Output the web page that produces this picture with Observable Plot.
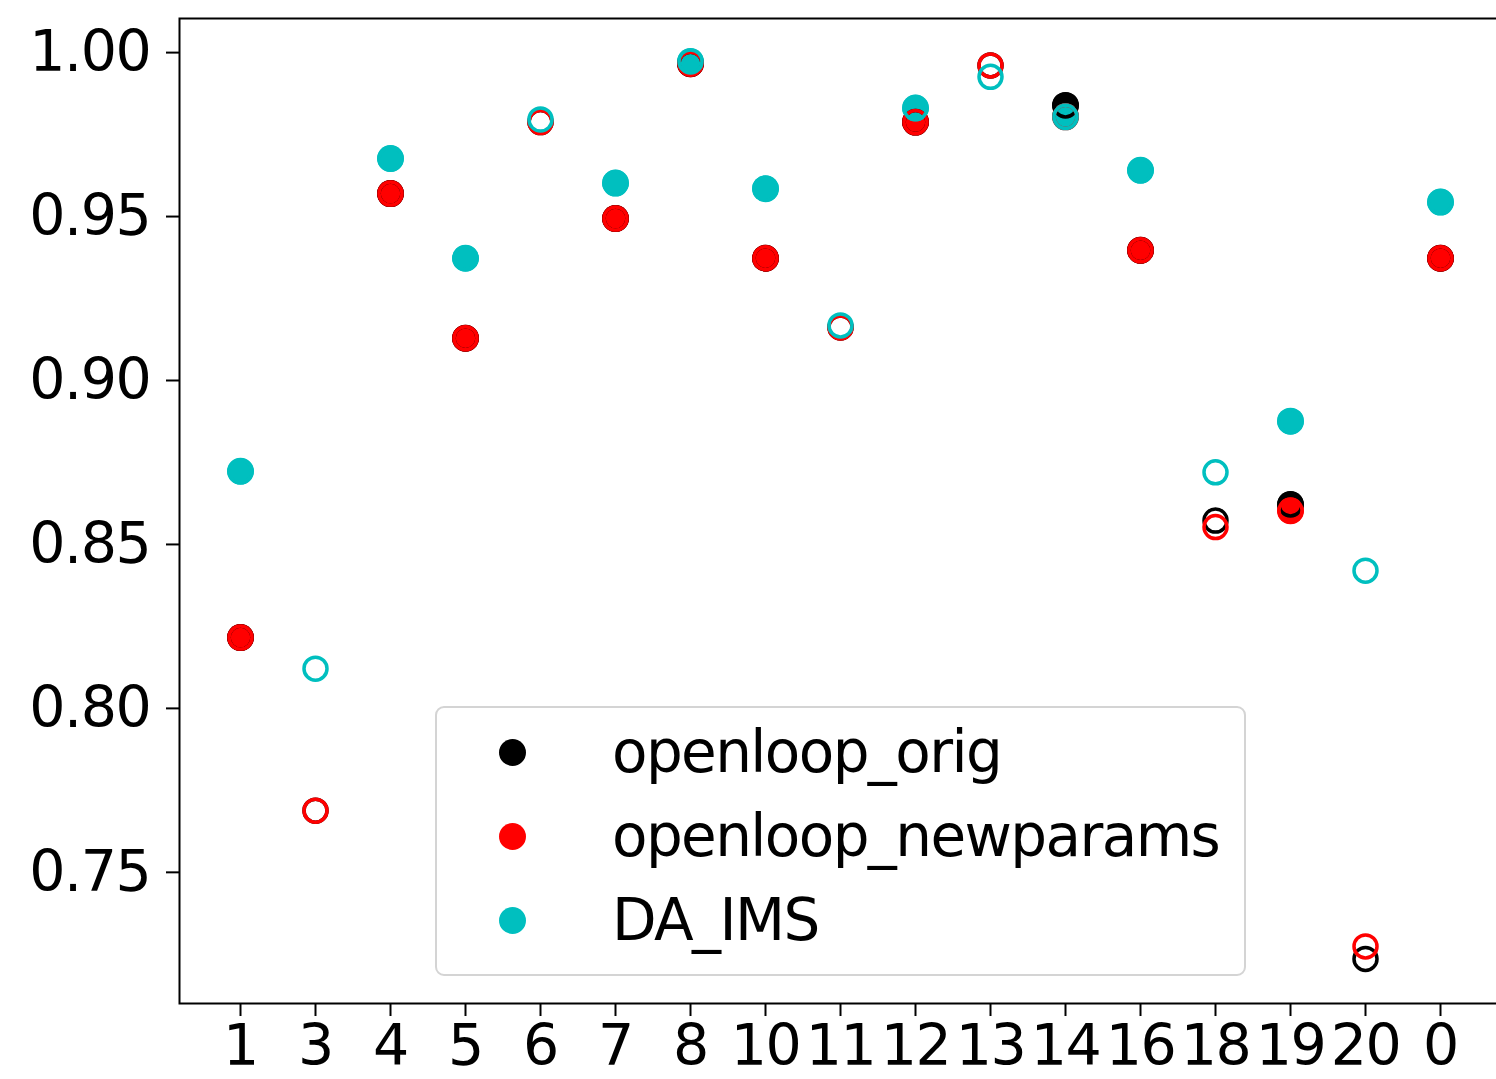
<!DOCTYPE html>
<html>
<head>
<meta charset="utf-8">
<script src="https://cdn.jsdelivr.net/npm/d3@7"></script>
<script src="https://cdn.jsdelivr.net/npm/@observablehq/plot@0.6"></script>
<style>
  html, body { margin: 0; padding: 0; overflow: hidden; background: #fff; }
  #wrap { position: relative; width: 1496px; height: 1079px; overflow: hidden; }
  #wrap svg { max-width: none !important; width: 1520px; height: 1079px; display: block; }
  #legend {
    position: absolute; left: 435px; top: 706px; width: 811px; height: 270px;
    box-sizing: border-box; border: 2px solid #d4d4d4; border-radius: 9px;
    background: rgba(255,255,255,0.8); padding-top: 2px;
    font-family: "DejaVu Sans", sans-serif; font-size: 58px; color: #000; letter-spacing: -1.6px;
  }
  .row { position: relative; height: 84px; }
  .sw { position: absolute; left: 61.5px; top: 28.5px; width: 27px; height: 27px; border-radius: 50%; }
  .lab { position: absolute; left: 175px; top: 0; line-height: 84px; white-space: nowrap; }
</style>
</head>
<body>
<div id="wrap"></div>
<script>
// Categories (x tick labels)
const categories = ["1","3","4","5","6","7","8","10","11","12","13","14","16","18","19","20","0"];
// Series values
const openloopOrig      = [0.8216,0.7688,0.9570,0.9129,0.9788,0.9494,0.9966,0.9373,0.9162,0.9788,0.9961,0.9839,0.9397,0.8573,0.8622,0.7236,0.9373];
const openloopNewparams = [0.8216,0.7688,0.9570,0.9129,0.9788,0.9494,0.9966,0.9373,0.9162,0.9788,0.9961,0.9804,0.9397,0.8553,0.8603,0.7274,0.9373];
const daIMS             = [0.8723,0.8121,0.9677,0.9373,0.9796,0.9602,0.9973,0.9585,0.9168,0.9831,0.9926,0.9804,0.9641,0.8720,0.8876,0.8420,0.9544];
// Filled (true) vs hollow (false) markers per category
const filledFlags = [true,false,true,true,false,true,true,true,false,true,false,true,true,false,true,false,true];
// Series names and colours
const seriesNames  = ["openloop_orig","openloop_newparams","DA_IMS"];
const seriesColors = ["#000000","#ff0000","#00bfbf"];
const yTicks = [0.75,0.80,0.85,0.90,0.95,1.00];

const seriesValues = [openloopOrig, openloopNewparams, daIMS];
const rows = [];
seriesNames.forEach((s, si) => {
  categories.forEach((c, i) => {
    rows.push({cat: c, value: seriesValues[si][i], series: s, filled: filledFlags[i]});
  });
});

const W = 1520, H = 1079;
const chart = Plot.plot({
  width: W,
  height: H,
  marginLeft: 179,
  marginRight: 19,
  marginTop: 18,
  marginBottom: 76,
  style: {fontFamily: "DejaVu Sans, sans-serif", fontSize: "57px", color: "#000", background: "#fff", letterSpacing: "-1.4px", maxWidth: "none"},
  x: {type: "point", domain: categories, padding: 0.8, label: null},
  y: {domain: [0.7100, 1.0104], label: null},
  color: {domain: seriesNames, range: seriesColors},
  marks: [
    Plot.dot(rows.filter(d => d.filled), {x: "cat", y: "value", fill: "series", r: 13.5, stroke: null}),
    Plot.dot(rows, {x: "cat", y: "value", stroke: "series", fill: "none", r: 11.5, strokeWidth: 3.5}),
    Plot.axisX({ticks: categories, tickSize: 13, tickPadding: 8, strokeWidth: 2, label: null, fill: "#000"}),
    Plot.axisY({ticks: yTicks, tickFormat: d3.format(".2f"), tickSize: 13, tickPadding: 16, strokeWidth: 2, label: null, fill: "#000"}),
    Plot.frame({stroke: "#000", strokeWidth: 2})
  ]
});
const wrap = document.getElementById("wrap");
wrap.appendChild(chart);

// Legend box (HTML overlay inside the axes, as in the reference)
const legend = document.createElement("div");
legend.id = "legend";
seriesNames.forEach((s, i) => {
  const row = document.createElement("div");
  row.className = "row";
  const sw = document.createElement("span");
  sw.className = "sw";
  sw.style.background = seriesColors[i];
  const lab = document.createElement("span");
  lab.className = "lab";
  lab.textContent = s;
  row.appendChild(sw);
  row.appendChild(lab);
  legend.appendChild(row);
});
wrap.appendChild(legend);
</script>
</body>
</html>
